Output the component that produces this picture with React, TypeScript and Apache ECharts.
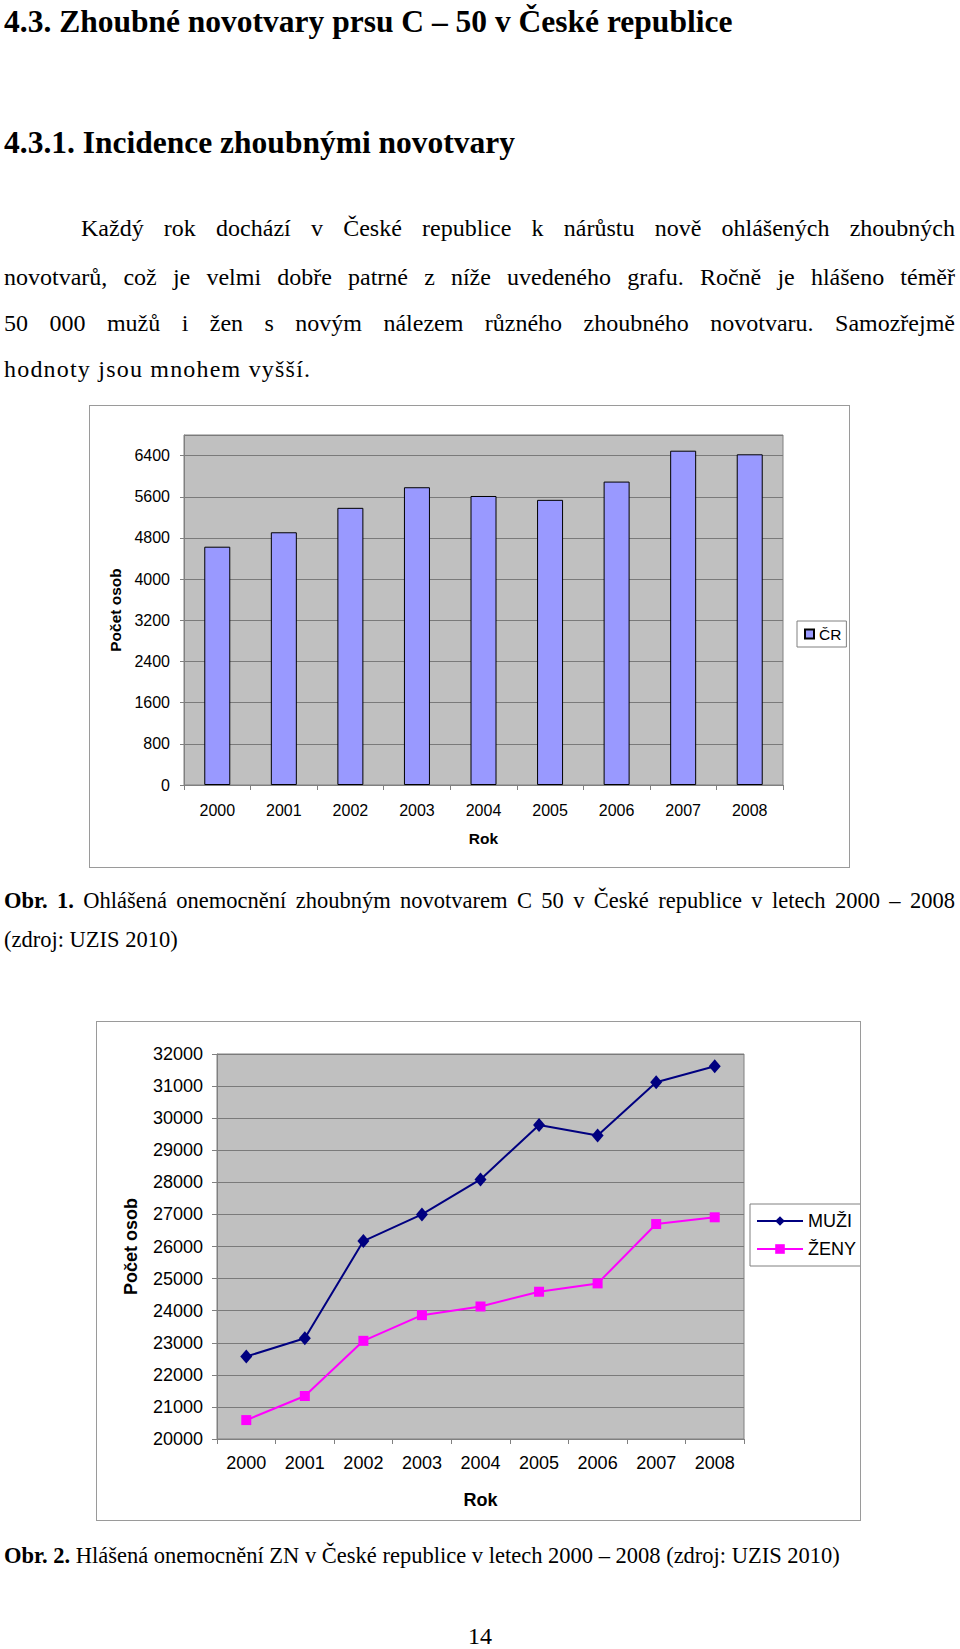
import React, { useEffect, useRef } from "react";
import * as echarts from "echarts";

const years = ["2000", "2001", "2002", "2003", "2004", "2005", "2006", "2007", "2008"];
const crValues = [4630, 4910, 5385, 5785, 5615, 5540, 5895, 6495, 6425];
const muziValues = [22570, 23140, 26170, 27000, 28090, 29790, 29460, 31120, 31620];
const zenyValues = [20590, 21340, 23060, 23860, 24130, 24590, 24850, 26700, 26910];

const SANS = "'Liberation Sans', Arial, sans-serif";
const SERIF = "'Liberation Serif', 'Times New Roman', serif";
const plain = (v: number) => String(v);

function Chart1() {
  const ref = useRef<HTMLDivElement>(null);
  useEffect(() => {
    if (!ref.current) return;
    const chart = echarts.init(ref.current, null, { renderer: "svg" });
    chart.setOption({
      animation: false,
      backgroundColor: "#ffffff",
      grid: {
        left: 94, top: 29, width: 599, height: 350,
        show: true, backgroundColor: "#C0C0C0", borderColor: "#808080", borderWidth: 1,
      },
      legend: {
        left: 707, top: 215, orient: "vertical",
        padding: [5, 5, 5, 7],
        itemWidth: 9, itemHeight: 9, icon: "rect",
        borderColor: "#808080", borderWidth: 1, backgroundColor: "#ffffff",
        textStyle: { fontSize: 15.5, color: "#000", fontFamily: SANS },
      },
      xAxis: {
        type: "category", data: years,
        axisLine: { lineStyle: { color: "#808080" } },
        axisTick: { show: true, length: 5, lineStyle: { color: "#808080" } },
        axisLabel: { color: "#000", fontSize: 16, fontFamily: SANS, margin: 17 },
        name: "Rok", nameLocation: "middle", nameGap: 45,
        nameTextStyle: { fontWeight: "bold", fontSize: 15.5, color: "#000", fontFamily: SANS },
      },
      yAxis: {
        type: "value", min: 0, max: 6800, interval: 800,
        axisLine: { show: true, lineStyle: { color: "#808080" } },
        axisTick: { show: true, length: 4, lineStyle: { color: "#808080" } },
        splitLine: { show: true, lineStyle: { color: "#7a7a7a" } },
        axisLabel: {
          showMaxLabel: false, color: "#000", fontSize: 16, fontFamily: SANS, margin: 14,
          formatter: (v: number) => (v > 6400 ? "" : String(v)),
        },
        name: "Počet osob", nameLocation: "middle", nameGap: 57, nameRotate: 90,
        nameTextStyle: { fontWeight: "bold", fontSize: 15.5, color: "#000", fontFamily: SANS },
      },
      series: [
        {
          type: "bar", name: "ČR", data: crValues, barWidth: 26,
          itemStyle: { color: "#9999FF", borderColor: "#000000", borderWidth: 1 },
        },
      ],
    });
    return () => chart.dispose();
  }, []);
  return <div ref={ref} style={{ width: 759, height: 461 }} />;
}

function Chart2() {
  const ref = useRef<HTMLDivElement>(null);
  useEffect(() => {
    if (!ref.current) return;
    const chart = echarts.init(ref.current, null, { renderer: "svg" });
    chart.setOption({
      animation: false,
      backgroundColor: "#ffffff",
      grid: {
        left: 120, top: 32, width: 527, height: 385,
        show: true, backgroundColor: "#C0C0C0", borderColor: "#808080", borderWidth: 1,
      },
      legend: {
        left: 653, top: 182, orient: "vertical",
        padding: [8, 8, 8, 6],
        itemWidth: 46, itemHeight: 12, itemGap: 10,
        borderColor: "#808080", borderWidth: 1, backgroundColor: "#ffffff",
        textStyle: { fontSize: 18, color: "#000", fontFamily: SANS },
      },
      xAxis: {
        type: "category", data: years,
        axisLine: { lineStyle: { color: "#808080" } },
        axisTick: { show: true, length: 5, lineStyle: { color: "#808080" } },
        axisLabel: { color: "#000", fontSize: 18, fontFamily: SANS, margin: 15 },
        name: "Rok", nameLocation: "middle", nameGap: 52,
        nameTextStyle: { fontWeight: "bold", fontSize: 18, color: "#000", fontFamily: SANS },
      },
      yAxis: {
        type: "value", min: 20000, max: 32000, interval: 1000,
        axisLine: { show: true, lineStyle: { color: "#808080" } },
        axisTick: { show: true, length: 5, lineStyle: { color: "#808080" } },
        splitLine: { show: true, lineStyle: { color: "#7a7a7a" } },
        axisLabel: { color: "#000", fontSize: 18, fontFamily: SANS, margin: 14, formatter: plain },
        name: "Počet osob", nameLocation: "middle", nameGap: 77, nameRotate: 90,
        nameTextStyle: { fontWeight: "bold", fontSize: 18, color: "#000", fontFamily: SANS },
      },
      series: [
        {
          type: "line", name: "MUŽI", data: muziValues,
          symbol: "diamond", symbolSize: [12, 14],
          lineStyle: { color: "#000080", width: 2 },
          itemStyle: { color: "#000080" },
        },
        {
          type: "line", name: "ŽENY", data: zenyValues,
          symbol: "rect", symbolSize: 10,
          lineStyle: { color: "#FF00FF", width: 2 },
          itemStyle: { color: "#FF00FF" },
        },
      ],
    });
    return () => chart.dispose();
  }, []);
  return <div ref={ref} style={{ width: 763, height: 498 }} />;
}

const abs = (top: number, left: number, extra: React.CSSProperties = {}): React.CSSProperties => ({
  position: "absolute", top, left, whiteSpace: "nowrap", ...extra,
});

export default function App() {
  useEffect(() => {
    document.body.style.margin = "0";
  }, []);
  const body: React.CSSProperties = { fontFamily: SERIF, fontSize: 24, lineHeight: "28px", color: "#000" };
  const cap: React.CSSProperties = { fontFamily: SERIF, fontSize: 22.5, lineHeight: "28px", color: "#000" };
  const just: React.CSSProperties = { textAlign: "justify", textAlignLast: "justify" as any, whiteSpace: "normal" };
  return (
    <div style={{ position: "absolute", left: 0, top: 0, width: 960, height: 1649, background: "#fff", overflow: "hidden" }}>
      <div style={abs(4, 4, { fontFamily: SERIF, fontWeight: "bold", fontSize: 31.5, lineHeight: "36px" })}>
        4.3. Zhoubné novotvary prsu C – 50 v České republice
      </div>
      <div style={abs(125, 4, { fontFamily: SERIF, fontWeight: "bold", fontSize: 31.5, lineHeight: "36px" })}>
        4.3.1. Incidence zhoubnými novotvary
      </div>
      <div style={abs(214, 81, { ...body, ...just, width: 874 })}>
        Každý rok dochází v České republice k nárůstu nově ohlášených zhoubných
      </div>
      <div style={abs(263, 4, { ...body, ...just, width: 951 })}>
        novotvarů, což je velmi dobře patrné z níže uvedeného grafu. Ročně je hlášeno téměř
      </div>
      <div style={abs(309, 4, { ...body, ...just, width: 951 })}>
        50 000 mužů i žen s novým nálezem různého zhoubného novotvaru. Samozřejmě
      </div>
      <div style={abs(355, 4, { ...body, letterSpacing: "1.2px" })}>hodnoty jsou mnohem vyšší.</div>

      <div style={{ position: "absolute", left: 89, top: 405, width: 761, height: 463, border: "1px solid #9a9a9a", boxSizing: "border-box" }}>
        <Chart1 />
      </div>

      <div style={abs(887, 4, { ...cap, ...just, width: 951 })}>
        <b>Obr. 1.</b> Ohlášená onemocnění zhoubným novotvarem C 50 v České republice v letech 2000 – 2008
      </div>
      <div style={abs(926, 4, { ...cap })}>(zdroj: UZIS 2010)</div>

      <div style={{ position: "absolute", left: 96, top: 1021, width: 765, height: 500, border: "1px solid #9a9a9a", boxSizing: "border-box" }}>
        <Chart2 />
      </div>

      <div style={abs(1542, 4, { ...cap })}>
        <b>Obr. 2.</b> Hlášená onemocnění ZN v České republice v letech 2000 – 2008 (zdroj: UZIS 2010)
      </div>
      <div style={abs(1622, 468, { ...body })}>14</div>
    </div>
  );
}
